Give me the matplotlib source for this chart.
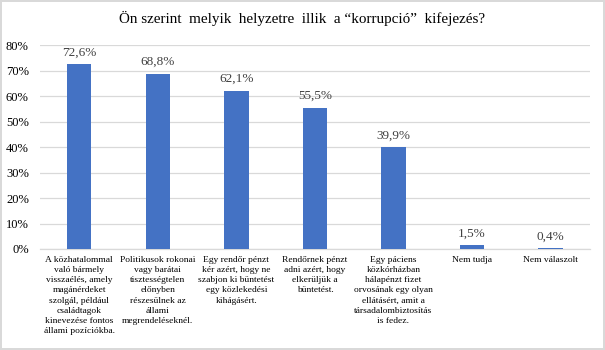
import matplotlib
matplotlib.use("Agg")
import matplotlib.pyplot as plt
from matplotlib.ticker import FuncFormatter

plt.rcParams['font.family'] = ['Liberation Serif', 'DejaVu Serif']

title = "Ön szerint  melyik  helyzetre  illik  a “korrupció”  kifejezés?"
categories = [
    "A közhatalommal\nvaló bármely\nvisszaélés, amely\nmagánérdeket\nszolgál, például\ncsaládtagok\nkinevezése fontos\nállami pozíciókba.",
    "Politikusok rokonai\nvagy barátai\ntisztességtelen\nelőnyben\nrészesülnek az\nállami\nmegrendeléseknél.",
    "Egy rendőr pénzt\nkér azért, hogy ne\nszabjon ki büntetést\negy közlekedési\nkihágásért.",
    "Rendőrnek pénzt\nadni azért, hogy\nelkerüljük a\nbüntetést.",
    "Egy páciens\nközkórházban\nhálapénzt fizet\norvosának egy olyan\nellátásért, amit a\ntársadalombiztosítás\nis fedez.",
    "Nem tudja",
    "Nem válaszolt",
]
values = [72.6, 68.8, 62.1, 55.5, 39.9, 1.5, 0.4]
value_labels = ["72,6%", "68,8%", "62,1%", "55,5%", "39,9%", "1,5%", "0,4%"]
yticks = [0, 10, 20, 30, 40, 50, 60, 70, 80]

fig = plt.figure(figsize=(6.05, 3.5), dpi=100)
fig.patch.set_edgecolor('#D9D9D9')
fig.patch.set_linewidth(1.5)
ax = fig.add_axes([0.066, 0.2886, 0.909, 0.5824])

x = list(range(len(values)))
ax.bar(x, values, width=0.31, color='#4472C4', zorder=3)
ax.set_xlim(-0.5, len(values) - 0.5)
ax.set_ylim(0, 80)
ax.set_yticks(yticks)
ax.yaxis.set_major_formatter(FuncFormatter(lambda v, p: f"{int(v)}%"))
ax.tick_params(axis='y', length=0, labelsize=9, pad=8)
ax.tick_params(axis='x', length=0)
ax.set_xticks([])
ax.grid(axis='y', color='#D9D9D9', linewidth=0.9, zorder=0)
for s in ['top', 'right', 'left']:
    ax.spines[s].set_visible(False)
ax.spines['bottom'].set_color('#D9D9D9')
ax.spines['bottom'].set_linewidth(0.9)

for xi, v, lab in zip(x, values, value_labels):
    ax.annotate(lab, (xi, v), xytext=(0, 4), textcoords='offset points',
                ha='center', va='bottom', fontsize=9.5, color='#404040')

for xi, cat in zip(x, categories):
    ax.annotate(cat, (xi, 0), xytext=(0, -5), textcoords='offset points',
                ha='center', va='top', fontsize=6.8, linespacing=1.36,
                color='#000000', annotation_clip=False)

fig.text(0.5, 0.948, title, ha='center', va='center', fontsize=10.9)

fig.savefig("out.png", dpi=100)
